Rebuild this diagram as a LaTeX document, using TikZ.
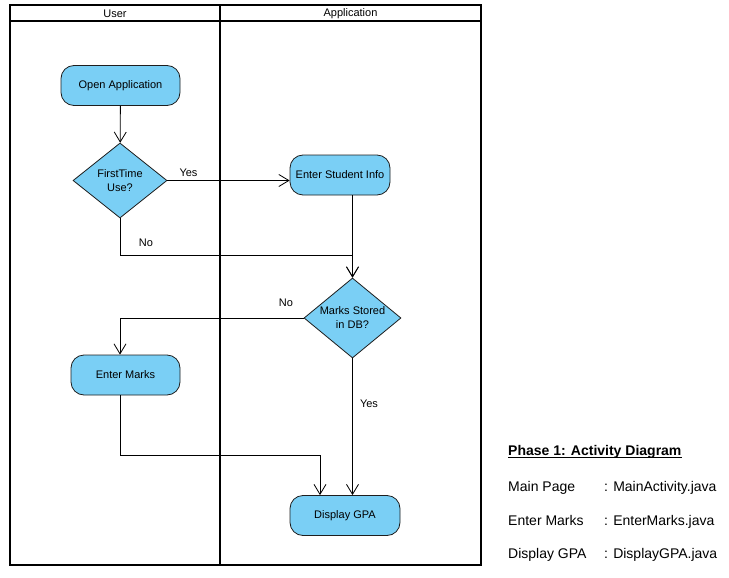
\documentclass[tikz,border=0pt]{standalone}
\usepackage{fontspec}
\setmainfont{Liberation Sans}
\usetikzlibrary{shapes.geometric,arrows.meta}
\definecolor{actfill}{RGB}{122,207,245}
\definecolor{edge}{RGB}{30,30,30}
\begin{document}
\begin{tikzpicture}[x=1pt,y=-1pt,
  lane/.style={line width=1.8pt, draw=black},
  small/.style={font=\fontsize{11}{14}\selectfont},
  action/.style={small, draw=edge, line width=0.8pt, fill=actfill, rounded corners=13pt,
    minimum height=40pt, inner sep=0pt},
  decision/.style={small, draw=edge, diamond, fill=actfill, line width=0.8pt,
    inner sep=-2pt, align=center, aspect=1.2},
  flow/.style={line width=0.8pt, draw=black, -{Straight Barb[length=10pt,width=12pt]}},
  legend/.style={font=\fontsize{14}{16}\selectfont, anchor=base west, inner sep=0pt}
]
\useasboundingbox (0,0) rectangle (729,578);

% swimlanes
\draw[lane] (10,5) rectangle (481,565);
\draw[lane] (220,5) -- (220,565);
\draw[line width=1.4pt] (10,21) -- (481,21);
\node[small] (userlane) at (115,13.5) {User};
\node[small] (applane) at (350.5,13.5) {Application};

% activities
\node[action, minimum width=119pt] (open) at (120.5,85.5) {Open Application};
\node[decision, minimum width=94pt, minimum height=75pt] (first) at (120,180.5) {FirstTime\\Use?};
\node[action, minimum width=100pt] (info) at (340,175) {Enter Student Info};
\node[decision, minimum width=97pt, minimum height=80pt] (marks) at (352.5,318) {Marks Stored\\in DB?};
\node[action, minimum width=109pt] (emarks) at (125.5,375) {Enter Marks};
\node[action, minimum width=110pt] (gpa) at (345,515.5) {Display GPA};

% control flows
\draw[flow] (open) -- (first);
\draw[flow] (first.east) -- (first.east -| info.west);
\draw[flow] (first.south) -- ++(0,37) -| (marks.north);
\draw[flow] (info.south -| marks.north) -- (marks.north);
\draw[flow] (marks.west) -| ([xshift=-5.5pt]emarks.north);
\draw[flow] ([xshift=-5.5pt]emarks.south) -- ++(0,60) -| ([xshift=-25pt]gpa.north);
\draw[flow] (marks.south) -- (marks.south |- gpa.north);

% guard labels
\node[small] (yes1) at (188.5,173) {Yes};
\node[small] (no1) at (146,242.5) {No};
\node[small] (no2) at (286,302.5) {No};
\node[small] (yes2) at (369,403.5) {Yes};

% legend
\node[legend, font=\fontsize{14}{16}\selectfont\bfseries] (title) at (508,455) {Phase 1: Activity Diagram};
\draw[line width=1.3pt] ([yshift=-2.5pt]title.base west) -- ([yshift=-2.5pt]title.base east);
\node[legend] (p1) at (508,491) {Main Page};
\node[legend] (f1) at (604,491) {: MainActivity.java};
\node[legend] (p2) at (508,525) {Enter Marks};
\node[legend] (f2) at (604,525) {: EnterMarks.java};
\node[legend] (p3) at (508,558) {Display GPA};
\node[legend] (f3) at (604,558) {: DisplayGPA.java};
\end{tikzpicture}
\end{document}
